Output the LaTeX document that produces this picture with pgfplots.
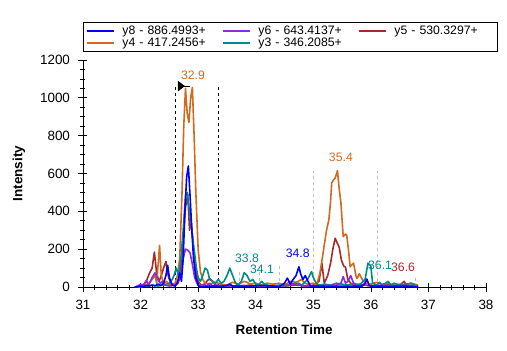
\documentclass[border=0pt]{standalone}
\usepackage{fontspec}
\setmainfont{Liberation Sans}
\usepackage{pgfplots}
\pgfplotsset{compat=1.18}
\definecolor{cB}{HTML}{0000FF}
\definecolor{cP}{HTML}{8A2BE2}
\definecolor{cR}{HTML}{A52A2A}
\definecolor{cO}{HTML}{D2691E}
\definecolor{cT}{HTML}{008B8B}
\begin{document}
\begin{tikzpicture}
\path[use as bounding box] (-83bp,-64bp) rectangle (424bp,287bp);
\begin{axis}[
  at={(0,0)}, anchor=south west,
  scale only axis, width=403bp, height=227bp,
  xmin=31, xmax=38, ymin=0, ymax=1200,
  axis lines=left, axis line style={-, black, line width=0.8pt},
  xtick={31,...,38}, ytick={0,200,...,1200},
  minor x tick num=4, minor y tick num=3,
  tick align=center, major tick length=9bp, minor tick length=5bp,
  tick style={black, line width=0.7pt},
  /pgf/number format/assume math mode=true,
  /pgf/number format/1000 sep={},
  tick label style={font=\fontsize{13.5}{15}\selectfont},
  xticklabel style={yshift=-5bp},
  yticklabel style={xshift=-5bp},
  xlabel={\textbf{Retention Time}},
  ylabel={\textbf{Intensity}},
  xlabel style={at={(rel axis cs:0.499,-0.189)}, anchor=center, font=\fontsize{13.5}{15}\selectfont},
  ylabel style={at={(rel axis cs:-0.159,0.5)}, anchor=center, rotate=0, font=\fontsize{13.5}{15}\selectfont},
  clip=false,
  legend columns=3,
  legend style={at={(rel axis cs:0,1)}, anchor=south west, yshift=8bp,
    draw=black, line width=0.8pt, font=\fontsize{12.3}{14}\selectfont,
    inner xsep=3bp, inner ysep=1.5bp, row sep=-1.5bp,
    nodes={text width=98bp, align=left, inner xsep=2bp},
    /tikz/every odd column/.append style={column sep=5bp}},
  legend image code/.code={\draw[#1, line width=2pt] (0bp,0bp) -- (27bp,0bp);},
  every axis plot/.append style={line width=1.6pt, line join=round},
]
\addlegendimage{cB}\addlegendentry{y8 - 886.4993+}
\addlegendimage{cP}\addlegendentry{y6 - 643.4137+}
\addlegendimage{cR}\addlegendentry{y5 - 530.3297+}
\addlegendimage{cO}\addlegendentry{y4 - 417.2456+}
\addlegendimage{cT}\addlegendentry{y3 - 346.2085+}

% annotation lines
\addplot[forget plot, black, dashed, line width=0.8pt] coordinates {(32.6,0) (32.6,1057)};
\addplot[forget plot, black, dashed, line width=0.8pt] coordinates {(33.36,0) (33.36,1057)};
\addplot[forget plot, gray!50, dashed, line width=0.8pt] coordinates {(33.71,0) (33.71,79)};
\addplot[forget plot, gray!50, dashed, line width=0.8pt] coordinates {(34.07,0) (34.07,106)};
\addplot[forget plot, gray!50, dashed, line width=0.8pt] coordinates {(34.42,0) (34.42,111)};
\addplot[forget plot, gray!50, dashed, line width=0.8pt] coordinates {(35.01,0) (35.01,613)};
\addplot[forget plot, gray!50, dashed, line width=0.8pt] coordinates {(36.12,0) (36.12,613)};
\addplot[forget plot, gray!50, dashed, line width=0.8pt] coordinates {(36.78,0) (36.78,47)};

% y5 brown
\addplot[forget plot, cR] coordinates {
(31.9,0)(32.0,5)(32.05,10)(32.1,30)(32.15,70)(32.2,100)(32.24,185)(32.28,70)(32.32,30)(32.36,60)(32.4,100)(32.44,135)(32.48,60)(32.52,20)(32.56,10)
(32.6,20)(32.65,30)(32.7,100)(32.74,250)(32.78,420)(32.82,490)(32.85,300)(32.88,350)(32.92,200)(32.96,80)(33.0,30)(33.05,10)
(33.1,10)(33.15,30)(33.2,45)(33.25,30)(33.3,10)(33.4,5)(33.5,10)(33.6,5)(33.7,8)(33.8,5)(33.9,10)(34.0,5)(34.1,8)(34.2,5)(34.3,8)(34.5,5)(34.7,10)(34.9,5)
(35.0,10)(35.1,30)(35.15,126)(35.19,20)(35.25,60)(35.3,126)(35.34,200)(35.38,258)(35.42,230)(35.45,210)(35.49,140)(35.53,110)(35.56,105)(35.6,40)(35.65,20)(35.7,10)
(35.8,15)(35.9,10)(36.0,5)(36.1,10)(36.2,5)(36.3,15)(36.4,5)(36.5,10)(36.58,30)(36.62,5)(36.7,10)(36.82,5)};
% y4 orange
\addplot[forget plot, cO] coordinates {
(31.95,0)(32.05,5)(32.15,20)(32.2,40)(32.25,60)(32.28,20)(32.33,220)(32.36,60)(32.4,20)(32.45,30)(32.5,10)(32.55,15)
(32.6,20)(32.64,60)(32.68,150)(32.72,500)(32.75,850)(32.78,1050)(32.81,920)(32.84,870)(32.87,1000)(32.9,1055)(32.93,800)(32.96,500)(33.0,200)(33.04,80)(33.08,40)
(33.12,20)(33.2,15)(33.3,25)(33.4,15)(33.5,10)(33.6,25)(33.7,15)(33.8,30)(33.85,25)(33.9,15)(34.0,20)(34.1,10)(34.2,20)(34.3,15)(34.4,20)(34.5,10)(34.6,30)(34.7,25)(34.8,40)(34.85,20)(34.9,15)(35.0,20)(35.06,10)
(35.12,80)(35.18,200)(35.23,300)(35.27,354)(35.3,450)(35.32,550)(35.36,570)(35.38,576)(35.42,615)(35.45,520)(35.48,444)(35.52,266)(35.56,280)(35.58,275)(35.61,200)(35.64,107)(35.7,126)(35.74,60)(35.76,45)(35.8,70)(35.85,40)(35.9,20)
(36.0,15)(36.1,25)(36.2,15)(36.3,20)(36.4,10)(36.5,15)(36.6,10)(36.7,20)(36.82,10)};
% y3 teal
\addplot[forget plot, cT] coordinates {
(31.95,0)(32.1,5)(32.2,10)(32.3,5)(32.4,10)(32.5,20)(32.55,40)
(32.58,60)(32.62,100)(32.66,60)(32.7,150)(32.74,300)(32.78,480)(32.81,500)(32.85,400)(32.89,300)(32.93,200)(32.97,100)(33.0,50)(33.04,30)(33.08,60)(33.12,100)(33.16,90)(33.2,40)(33.25,30)
(33.3,20)(33.35,40)(33.4,20)(33.45,30)(33.5,60)(33.55,100)(33.6,60)(33.65,20)(33.7,10)(33.75,30)(33.8,76)(33.85,60)(33.9,30)(33.95,40)(34.0,15)(34.05,10)(34.1,30)(34.15,15)(34.2,10)(34.3,5)(34.4,10)(34.5,5)(34.6,15)(34.7,20)(34.8,10)(34.9,40)(34.97,81)(35.0,50)(35.05,20)(35.1,10)(35.2,15)(35.3,10)(35.4,20)(35.5,15)(35.6,10)(35.7,20)(35.8,10)(35.9,40)(35.95,126)(36.0,110)(36.03,20)(36.1,10)(36.15,25)(36.2,10)(36.3,30)(36.35,10)(36.4,20)(36.5,10)(36.6,15)(36.7,20)(36.75,10)(36.82,5)};
% y6 purple
\addplot[forget plot, cP] coordinates {
(31.9,0)(31.95,5)(32.0,15)(32.05,10)(32.1,35)(32.14,10)(32.2,50)(32.25,75)(32.3,40)(32.34,20)(32.38,30)(32.42,10)(32.5,5)(32.56,8)
(32.6,10)(32.65,20)(32.7,60)(32.74,150)(32.78,200)(32.82,195)(32.86,180)(32.9,120)(32.94,50)(32.98,20)(33.0,10)
(33.05,5)(33.1,15)(33.15,5)(33.2,20)(33.25,5)(33.3,10)(33.5,5)(33.8,8)(34.1,3)(34.4,5)(34.6,10)(34.75,20)(34.8,5)(35.0,5)(35.4,10)(35.48,20)(35.52,55)(35.56,20)(35.6,30)(35.65,60)(35.7,20)(35.75,5)(35.9,10)(36.0,5)(36.2,10)(36.4,5)(36.6,10)(36.82,0)};
% y8 blue
\addplot[forget plot, cB] coordinates {
(31.9,0)(31.95,2)(32.0,5)(32.05,3)(32.1,8)(32.15,5)(32.2,10)(32.25,6)(32.3,15)(32.35,8)(32.4,20)(32.44,60)(32.47,115)(32.5,50)(32.55,10)(32.6,5)
(32.64,20)(32.68,75)(32.71,30)(32.74,150)(32.77,400)(32.8,580)(32.83,640)(32.86,480)(32.89,300)(32.92,150)(32.96,50)(33.0,10)(33.04,0)
(33.2,5)(33.4,3)(33.5,8)(33.55,15)(33.6,5)(33.9,5)(34.1,8)(34.3,5)(34.4,0)(34.5,20)(34.55,47)(34.6,15)(34.65,40)(34.7,60)(34.75,107)(34.78,70)(34.82,40)(34.86,60)(34.9,35)(34.95,5)
(35.0,5)(35.3,3)(35.6,5)(35.85,5)(35.9,20)(35.93,42)(35.97,10)(36.0,5)(36.3,3)(36.6,5)(36.82,0)};

% arrow marker
\draw[black, line width=0.8pt] (axis cs:32.65,1062) -- (axis cs:32.85,1062);
\fill[black] (axis cs:32.65,1090) -- (axis cs:32.65,1034) -- (axis cs:32.77,1062) -- cycle;

% peak labels
\node[cO, font=\fontsize{12.3}{14}\selectfont] at (axis cs:32.91,1121) {32.9};
\node[cO, font=\fontsize{12.3}{14}\selectfont] at (axis cs:35.48,687) {35.4};
\node[cT, font=\fontsize{12.3}{14}\selectfont] at (axis cs:33.85,153) {33.8};
\node[cT, font=\fontsize{12.3}{14}\selectfont] at (axis cs:34.11,95) {34.1};
\node[cB, font=\fontsize{12.3}{14}\selectfont] at (axis cs:34.73,180) {34.8};
\node[cT, font=\fontsize{12.3}{14}\selectfont] at (axis cs:36.16,116) {36.1};
\node[cR, font=\fontsize{12.3}{14}\selectfont] at (axis cs:36.56,106) {36.6};
\end{axis}
\end{tikzpicture}
\end{document}
